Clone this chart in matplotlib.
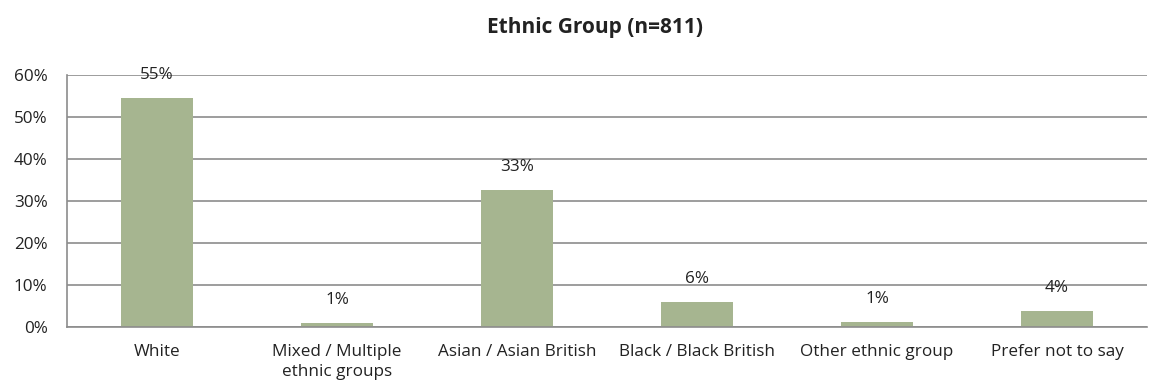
import matplotlib
matplotlib.use("Agg")
import matplotlib.pyplot as plt
from matplotlib.ticker import PercentFormatter

categories = ["White", "Mixed / Multiple\nethnic groups", "Asian / Asian British",
              "Black / Black British", "Other ethnic group", "Prefer not to say"]
values = [54.6, 1.0, 32.6, 6.0, 1.3, 3.8]
labels = ["55%", "1%", "33%", "6%", "1%", "4%"]

plt.rcParams["font.family"] = ["Open Sans", "DejaVu Sans"]

fig = plt.figure(figsize=(11.56, 3.90), dpi=100)
ax = fig.add_axes([67 / 1156, 1 - 327 / 390, 1080 / 1156, 252 / 390])

x = range(len(categories))
ax.bar(x, values, width=0.405, color="#A6B590", zorder=2)
for i, (v, lab) in enumerate(zip(values, labels)):
    ax.annotate(lab, (i, v), xytext=(0, 16.5), textcoords="offset points",
                ha="center", va="center", fontsize=12.3, color="#222222", zorder=3)

ax.set_xlim(-0.5, len(categories) - 0.5)
ax.set_ylim(0, 60)
ax.set_yticks(range(0, 61, 10))
ax.yaxis.set_major_formatter(PercentFormatter(decimals=0))
ax.set_xticks(list(x))
ax.set_xticklabels(categories, fontsize=12.3, color="#222222", linespacing=1.35)
ax.tick_params(axis="y", labelsize=12.3, labelcolor="#222222", length=0, pad=14)
ax.tick_params(axis="x", length=0, pad=12)
ax.grid(axis="y", color="#8C8C8C", linewidth=1.2, zorder=0)
for s in ["top", "right"]:
    ax.spines[s].set_visible(False)
for s in ["left", "bottom"]:
    ax.spines[s].set_color("#8C8C8C")
    ax.spines[s].set_linewidth(1.2)

fig.text(595 / 1156, 1 - 28 / 390, "Ethnic Group (n=811)", ha="center", va="center",
         fontsize=15, fontweight="bold", color="#222222")

fig.savefig("out.png", dpi=100)
